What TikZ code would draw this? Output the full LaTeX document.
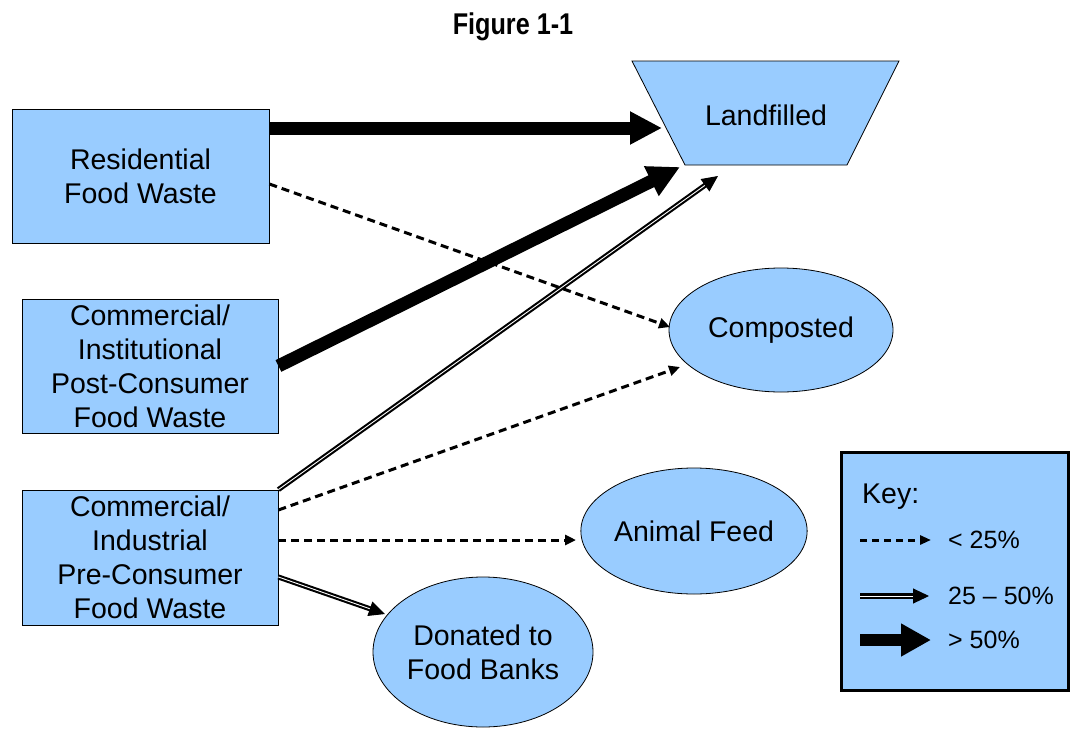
\documentclass[tikz,border=0pt]{standalone}
\usepackage{fontspec}
\usepackage{graphicx}
\setmainfont{Liberation Sans}
\usetikzlibrary{arrows.meta,shapes.geometric,calc}
\definecolor{boxblue}{HTML}{99CCFF}
\newcommand\bodyfont{\fontsize{28.5}{34}\selectfont}
\newcommand\keyfont{\fontsize{25}{30}\selectfont}
\begin{document}
\begin{tikzpicture}[x=1pt,y=-1pt,
  sourcebox/.style={draw=black, line width=0.8pt, fill=boxblue, inner sep=0pt,
    align=center, font=\bodyfont},
  outcome/.style={ellipse, draw=black, line width=0.8pt, fill=boxblue, inner sep=0pt,
    align=center, font=\bodyfont},
  heavy/.style={line width=13pt, -{Triangle[length=32pt,width=31pt]}},
  light/.style={line width=3pt, dash pattern=on 8pt off 5pt,
    -{Triangle[length=11pt,width=10pt]}},
  twin/.style={line width=2.1pt, double, double distance=0.9pt, shorten >=14pt},
  twinhead/.style={line width=1pt, -{Triangle[length=16pt,width=15pt]}},
]
\useasboundingbox (0,0) rectangle (1070,728);

% medium-share connector: double line with a solid head
\newcommand\twinarrow[2]{%
  \draw[twin] (#1) -- (#2);
  \draw[twinhead] ($(#2)!16pt!(#1)$) -- (#2);}

% title
\node (title) at (513,27) {\scalebox{0.84}[1]{\fontsize{30}{36}\selectfont\bfseries Figure 1-1}};

% sources
\node[sourcebox, minimum width=257pt, minimum height=134pt] (res) at (140.5,176)
  {Residential\\Food Waste};
\node[sourcebox, minimum width=256pt, minimum height=134pt] (post) at (150,366)
  {Commercial/\\Institutional\\Post-Consumer\\Food Waste};
\node[sourcebox, minimum width=256pt, minimum height=135pt] (pre) at (150,557.5)
  {Commercial/\\Industrial\\Pre-Consumer\\Food Waste};

% destinations
\draw[line width=0.8pt, fill=boxblue] (632,61) -- (899,61) -- (847,165) -- (685,165) -- cycle;
\node[font=\bodyfont] (land) at (766,115) {Landfilled};
\node[outcome, minimum width=224pt, minimum height=124pt] (comp) at (781,330) {Composted};
\node[outcome, minimum width=224pt, minimum height=126pt] (feed) at (694,531) {Animal Feed};
\node[outcome, minimum width=220pt, minimum height=150pt] (bank) at (483,652)
  {Donated to\\Food Banks};

% arrow ends
\coordinate (t1) at (662,128);
\coordinate (t2) at (670,327);
\coordinate (t3) at (680,167);
\coordinate (t4) at (718,176);
\coordinate (t5) at (680,367);
\coordinate (t6) at (576,540);
\coordinate (t7) at (385,614);

\coordinate (s1) at ([yshift=48pt]res.east);
\coordinate (s2) at ([yshift=-8pt]res.east);
\coordinate (s4) at (pre.north east);
\coordinate (s5) at ([yshift=47.5pt]pre.east);
\coordinate (s6) at ([yshift=17.5pt]pre.east);
\coordinate (s7) at ([yshift=-19.5pt]pre.east);

% flows
\draw[heavy] (s1) -- (t1);
\draw[light] (s2) -- (t2);
\draw[heavy] (post.east) -- (t3);
\twinarrow{s4}{t4}
\draw[light] (s5) -- (t5);
\draw[light] (s6) -- (t6);
\twinarrow{s7}{t7}

% key
\node[draw=black, line width=3pt, fill=boxblue, minimum width=227pt, minimum height=238pt,
  inner sep=0pt] (key) at (954.5,571) {};
\node[font=\bodyfont, anchor=west, inner sep=0pt] (keytitle) at (862,497) {Key:};
\coordinate (ka1) at (860,540); \coordinate (kb1) at (931,540);
\coordinate (ka2) at (860,596); \coordinate (kb2) at (929,596);
\coordinate (ka3) at (860,640); \coordinate (kb3) at (931,640);
\draw[line width=3pt, dash pattern=on 7pt off 5pt, -{Triangle[length=11pt,width=9pt]}] (ka1) -- (kb1);
\twinarrow{ka2}{kb2}
\draw[line width=12pt, -{Triangle[length=30pt,width=31pt]}] (ka3) -- (kb3);
\node[font=\keyfont, anchor=west, inner sep=0pt] (kl1) at (948,540) {< 25\%};
\node[font=\keyfont, anchor=west, inner sep=0pt] (kl2) at (948,596) {25 – 50\%};
\node[font=\keyfont, anchor=west, inner sep=0pt] (kl3) at (948,640) {> 50\%};
\end{tikzpicture}
\end{document}
